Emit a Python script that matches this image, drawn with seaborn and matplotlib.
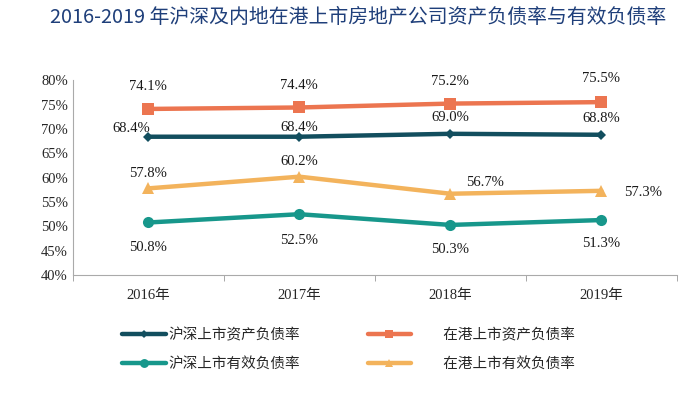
import numpy as np
import pandas as pd
import matplotlib
matplotlib.use('Agg')
import matplotlib.pyplot as plt
import seaborn as sns

# ============================================= data

years = ['2016年', '2017年', '2018年', '2019年']
hs_asset = [68.4, 68.4, 69.0, 68.8]
hk_asset = [74.1, 74.4, 75.2, 75.5]
hs_eff = [50.8, 52.5, 50.3, 51.3]
hk_eff = [57.8, 60.2, 56.7, 57.3]
series_names = ['沪深上市资产负债率', '在港上市资产负债率', '沪深上市有效负债率', '在港上市有效负债率']

# ============================================= style

sns.set_style('white')
plt.rcParams['font.family'] = ['Liberation Serif', 'Noto Sans CJK SC']

colors = ['#124e5e', '#ec7550', '#17978b', '#f3b35c']
markers = ['D', 's', 'o', '^']
msizes = [5, 8, 8, 8]

df = pd.DataFrame({'year': years * 4,
                   'value': hs_asset + hk_asset + hs_eff + hk_eff,
                   'series': np.repeat(series_names, 4)})

fig = plt.figure(figsize=(7, 3.97), dpi=100)
ax = fig.add_axes([0.104, 0.307, 0.863, 0.491])

for i, name in enumerate(series_names):
    sub = df[df['series'] == name]
    sns.lineplot(x='year', y='value', data=sub, ax=ax, color=colors[i], lw=3.2,
                 marker=markers[i], markersize=msizes[i], markeredgewidth=0,
                 label=name, sort=False)

# data labels (offsets in points)
offsets = {
    0: [(-12, 6), (0, 7), (0, 12), (0, 12)],
    1: [(0, 16), (0, 16), (0, 16), (0, 17)],
    2: [(0, -18), (0, -19), (0, -18), (0, -17)],
    3: [(0, 11), (0, 11), (25, 8), (30, -1)],
}
vals = [hs_asset, hk_asset, hs_eff, hk_eff]
for i, v in enumerate(vals):
    for j, y in enumerate(v):
        ax.annotate(f'{y:.1f}%', (j, y), xytext=offsets[i][j], textcoords='offset points',
                    ha='center', va='center', fontsize=10.5, color='#1a1a1a')

ax.set_xlim(-0.5, 3.5)
ax.set_ylim(40, 80)
ax.set_yticks(np.arange(40, 81, 5))
ax.set_yticklabels([f'{t}%' for t in range(40, 81, 5)], fontsize=10.5)
ax.set_xticks(range(4))
ax.set_xticklabels(years, fontsize=10.5)
ax.set_xticks(np.arange(-0.5, 4, 1), minor=True)
ax.tick_params(axis='x', which='major', length=0, pad=10)
ax.tick_params(axis='x', which='minor', length=4, color='#999999', direction='out', bottom=True)
ax.tick_params(axis='y', length=0)
ax.set_xlabel('')
ax.set_ylabel('')
for s in ['top', 'right']:
    ax.spines[s].set_visible(False)
for s in ['left', 'bottom']:
    ax.spines[s].set_color('#aaaaaa')

# legend: row 1 = asset ratios, row 2 = effective ratios
handles, labels = ax.get_legend_handles_labels()
labels = ['\u3000\u3000' + l if k in (1, 3) else l for k, l in enumerate(labels)]
order = [0, 2, 1, 3]
ax.legend([handles[k] for k in order], [labels[k] for k in order],
          loc='upper left', bbox_to_anchor=(0.06, -0.205), ncol=2, frameon=False,
          columnspacing=4.6, handlelength=3.0, handletextpad=0.2,
          labelspacing=1.0, markerscale=0.8,
          prop={'family': ['Noto Sans CJK SC'], 'size': 10.5})

fig.text(0.072, 0.955, '2016-2019 年沪深及内地在港上市房地产公司资产负债率与有效负债率',
         fontsize=14.3, color='#1f3f7a', va='center',
         family=['Noto Sans CJK SC'])

fig.savefig('out.png', dpi=100)
